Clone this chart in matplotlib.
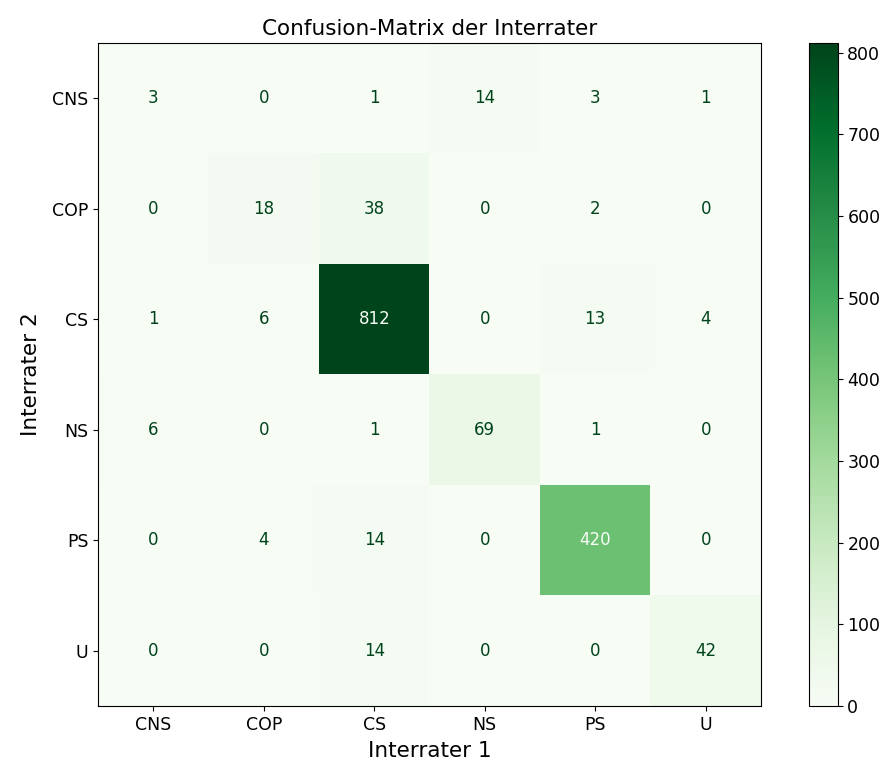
import numpy as np
import matplotlib.pyplot as plt

labels = ["CNS", "COP", "CS", "NS", "PS", "U"]
counts = [
    [3, 0, 1, 14, 3, 1],
    [0, 18, 38, 0, 2, 0],
    [1, 6, 812, 0, 13, 4],
    [6, 0, 1, 69, 1, 0],
    [0, 4, 14, 0, 420, 0],
    [0, 0, 14, 0, 0, 42],
]

cm = np.array(counts)
cmap = plt.get_cmap("Greens")

fig = plt.figure(figsize=(8.92, 7.65), dpi=100)
ax = fig.add_axes([0.110, 0.077, 0.743, 0.867])
cax = fig.add_axes([0.907, 0.077, 0.032, 0.867])

im = ax.imshow(cm, cmap=cmap, interpolation="nearest")
cb = fig.colorbar(im, cax=cax)
cb.ax.tick_params(labelsize=12.5)

thresh = (cm.max() + cm.min()) / 2.0
for i in range(cm.shape[0]):
    for j in range(cm.shape[1]):
        color = cmap(0.0) if cm[i, j] >= thresh else cmap(1.0)
        ax.text(j, i, str(cm[i, j]), ha="center", va="center", color=color, fontsize=12)

ax.set_xticks(range(len(labels)))
ax.set_xticklabels(labels)
ax.set_yticks(range(len(labels)))
ax.set_yticklabels(labels)
ax.tick_params(labelsize=12.5)
ax.set_xlabel("Interrater 1", fontsize=15.5, labelpad=5)
ax.set_ylabel("Interrater 2", fontsize=15.5, labelpad=8)
ax.set_title("Confusion-Matrix der Interrater", fontsize=15.5)

fig.savefig("out.png", dpi=100)
